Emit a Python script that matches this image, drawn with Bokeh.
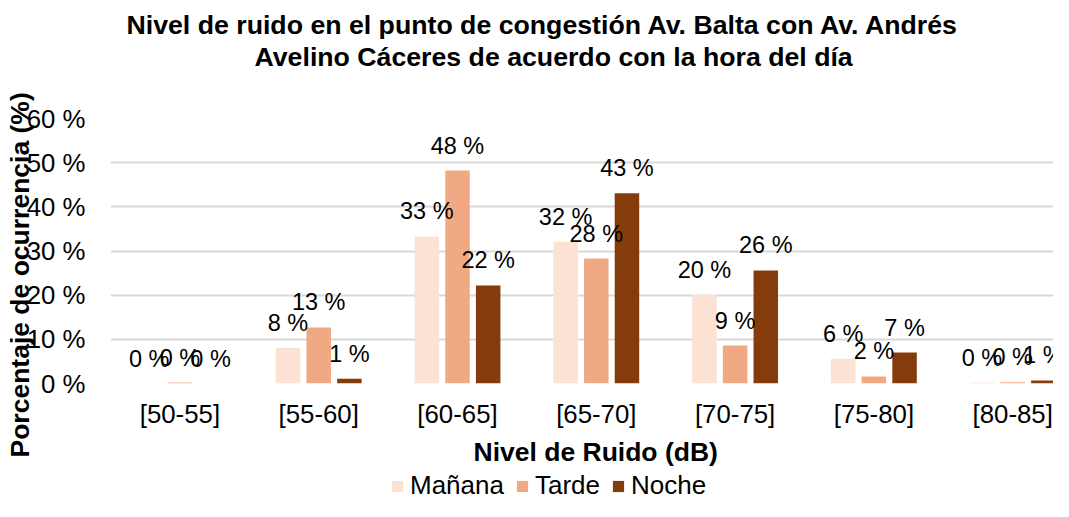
import numpy as np
from bokeh.plotting import figure
from bokeh.layouts import column
from bokeh.models import (Range1d, FixedTicker, PrintfTickFormatter, Title, Legend,
                          LegendItem, LabelSet, ColumnDataSource)
from bokeh.core.properties import value
from bokeh.embed import file_html
from bokeh.resources import INLINE

# ---- data ----
categories = ["[50-55]", "[55-60]", "[60-65]", "[65-70]", "[70-75]", "[75-80]", "[80-85]"]
series_names = ["Mañana", "Tarde", "Noche"]
manana = [0.0, 8.1, 33.3, 32.1, 20.1, 5.6, 0.2]
tarde = [0.2, 12.7, 48.2, 28.3, 8.6, 1.6, 0.3]
noche = [0.0, 1.1, 22.2, 43.1, 25.6, 7.0, 0.7]
y_ticks = [0, 10, 20, 30, 40, 50, 60]
title_line1 = "Nivel de ruido en el punto de congestión Av. Balta con Av. Andrés"
title_line2 = "Avelino Cáceres de acuerdo con la hora del día"
x_title = "Nivel de Ruido (dB)"
y_title = "Porcentaje de ocurrencia (%)"

# ---- style ----
colors = ["#FBE2D5", "#F1A983", "#843C0C"]
FONT = "Liberation Sans"
W = 1053
H_TOP, H_LEG = 72, 31
H_MAIN = 501 - H_TOP - H_LEG
BAR_W = 0.1765
OFFS = [-0.221, 0.0, 0.221]
TICK_FS = "25.8px"

# ---- title strip ----
tf = figure(width=W, height=H_TOP, output_backend="svg", toolbar_location=None,
            x_range=Range1d(0, 1), y_range=Range1d(0, 1),
            x_axis_type=None, y_axis_type=None,
            min_border_left=0, min_border_right=0, min_border_top=0,
            min_border_bottom=0)
tf.outline_line_color = None
tf.grid.visible = False
t1 = Title(text=title_line1, align="left", offset=16, standoff=0,
           text_font=FONT, text_font_size="26.7px", text_font_style="bold",
           text_color="black")
t2 = Title(text=title_line2, align="left", offset=144, standoff=1,
           text_font=FONT, text_font_size="26.7px", text_font_style="bold",
           text_color="black")
tf.add_layout(t1, "below")
tf.add_layout(t2, "below")

# ---- main chart ----
p = figure(width=W, height=H_MAIN, output_backend="svg", toolbar_location=None,
           x_range=Range1d(0, 6.794), y_range=Range1d(0, 60),
           min_border_left=110, min_border_right=0, min_border_top=118 - H_TOP,
           min_border_bottom=87)
p.outline_line_color = None
p.background_fill_color = "white"
p.border_fill_color = "white"

xaxis = p.below[0]
yaxis = p.left[0]

centers = np.arange(len(categories)) + 0.5
xaxis.ticker = FixedTicker(ticks=list(centers))
xaxis.major_label_overrides = {float(c): cat for c, cat in zip(centers, categories)}
xaxis.major_label_text_font = FONT
xaxis.major_label_text_font_size = TICK_FS
xaxis.major_label_text_color = "black"
xaxis.major_label_standoff = 16
xaxis.axis_line_color = None
xaxis.major_tick_line_color = None
xaxis.minor_tick_line_color = None
xaxis.major_tick_out = 0
xaxis.major_tick_in = 0

yaxis.ticker = FixedTicker(ticks=y_ticks)
yaxis.formatter = PrintfTickFormatter(format="%d %%")
yaxis.major_label_text_font = FONT
yaxis.major_label_text_font_size = TICK_FS
yaxis.major_label_text_color = "black"
yaxis.major_label_standoff = 25
yaxis.axis_line_color = None
yaxis.major_tick_line_color = None
yaxis.minor_tick_line_color = None
yaxis.major_tick_out = 0
yaxis.major_tick_in = 0

p.xgrid.grid_line_color = None
p.ygrid.grid_line_color = "#D9D9D9"
p.ygrid.grid_line_width = 2

# axis titles as positioned titles
ylab = Title(text=y_title, align="left", offset=-74, standoff=-23,
             text_font=FONT, text_font_size="26.5px", text_font_style="bold",
             text_color="black")
p.add_layout(ylab, "left")
xlab = Title(text=x_title, align="left", offset=363, standoff=8,
             text_font=FONT, text_font_size="26.5px", text_font_style="bold",
             text_color="black")
p.add_layout(xlab, "below")

# bars + labels
sources = []
for name, vals, col, off in zip(series_names, [manana, tarde, noche], colors, OFFS):
    src = ColumnDataSource(dict(x=centers + off, top=vals,
                                label=[f"{round(v)} %" for v in vals]))
    sources.append(src)
    p.vbar(x="x", top="top", width=BAR_W, bottom=0, source=src,
           fill_color=col, line_color=None)
    p.add_layout(LabelSet(x="x", y="top", text="label", source=src,
                          text_align="center", text_baseline="middle", y_offset=25,
                          text_font=value(FONT), text_font_size=value("23.5px"),
                          text_color="black"))

# ---- legend strip (its own view range keeps the bars out of sight) ----
lg = figure(width=W, height=H_LEG, output_backend="svg", toolbar_location=None,
            x_range=Range1d(-20, -10), y_range=Range1d(0, 1),
            x_axis_type=None, y_axis_type=None,
            min_border_left=0, min_border_right=0, min_border_top=0,
            min_border_bottom=0)
lg.outline_line_color = None
lg.grid.visible = False
items = []
for name, col, src in zip(series_names, colors, sources):
    r = lg.vbar(x="x", top="top", width=BAR_W, source=src, fill_color=col,
                line_color=None)
    items.append(LegendItem(label=name, renderers=[r]))
legend = Legend(items=items, orientation="horizontal", location=(280, 0),
                label_text_font=FONT, label_text_font_size="26px",
                label_text_color="black", glyph_width=14, glyph_height=14,
                label_standoff=6, spacing=11, padding=0, margin=0,
                border_line_color=None, background_fill_alpha=0)
lg.add_layout(legend, "center")

layout = column(tf, p, lg, spacing=0)
open("out.html", "w").write(file_html(layout, INLINE))
